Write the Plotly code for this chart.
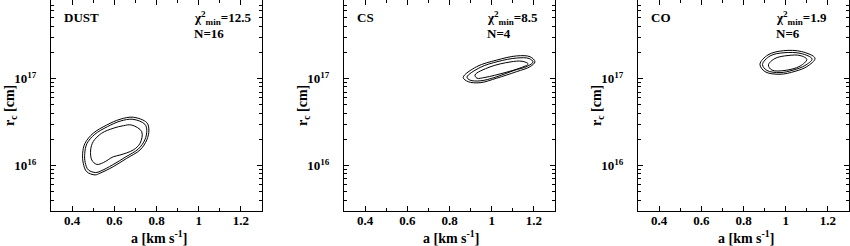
import plotly.graph_objects as go

# ---------------- data ----------------
panel_names = ["DUST", "CS", "CO"]
chi2_min = ["12.5", "8.5", "1.9"]
n_points = [16, 4, 6]

a_ticks = [0.4, 0.6, 0.8, 1.0, 1.2]
a_tick_labels = ["0.4", "0.6", "0.8", "1", "1.2"]
a_minor = [0.3, 0.5, 0.7, 0.9, 1.1, 1.3]
r_ticks = [1e16, 1e17]
r_tick_labels = ["10<sup>16</sup>", "10<sup>17</sup>"]
r_minor = [4e15, 5e15, 6e15, 7e15, 8e15, 9e15,
           2e16, 3e16, 4e16, 5e16, 6e16, 7e16, 8e16, 9e16,
           2e17, 3e17, 4e17, 5e17, 6e17, 7e17, 8e17]

# contour levels: a [km/s], r_c [1e16 cm]
dust_outer_a = [0.690, 0.754, 0.764, 0.754, 0.722, 0.659, 0.595, 0.532, 0.509, 0.469, 0.453, 0.450, 0.461, 0.500, 0.564, 0.627]
dust_outer_r = [3.59, 3.11, 2.56, 1.97, 1.51, 1.21, 0.97, 0.815, 0.78, 0.85, 1.06, 1.38, 1.80, 2.35, 2.92, 3.40]
dust_mid_a = [0.688, 0.745, 0.754, 0.745, 0.714, 0.655, 0.593, 0.534, 0.512, 0.477, 0.462, 0.460, 0.470, 0.507, 0.568, 0.628]
dust_mid_r = [3.40, 2.98, 2.52, 1.98, 1.55, 1.26, 1.02, 0.86, 0.83, 0.89, 1.08, 1.38, 1.78, 2.28, 2.80, 3.24]
dust_inner_a = [0.682, 0.730, 0.722, 0.690, 0.627, 0.595, 0.548, 0.517, 0.493, 0.488, 0.500, 0.540, 0.595, 0.643]
dust_inner_r = [2.92, 2.45, 1.80, 1.51, 1.32, 1.26, 1.08, 1.03, 1.16, 1.51, 1.88, 2.35, 2.68, 2.87]

cs_outer_a = [0.865, 0.929, 1.024, 1.118, 1.182, 1.205, 1.182, 1.118, 1.024, 0.945, 0.889]
cs_outer_r = [10.3, 13.7, 16.3, 18.2, 17.8, 15.6, 13.7, 12.0, 10.1, 8.96, 9.2]
cs_mid_a = [0.883, 0.945, 1.030, 1.118, 1.177, 1.196, 1.168, 1.106, 1.020, 0.945, 0.897]
cs_mid_r = [10.4, 13.4, 15.7, 17.2, 17.0, 15.5, 13.8, 12.4, 10.4, 9.4, 9.6]
cs_inner_a = [0.921, 0.992, 1.087, 1.144, 1.173, 1.134, 1.063, 0.968, 0.930]
cs_inner_r = [11.0, 13.6, 15.5, 15.8, 14.7, 13.2, 11.7, 10.3, 10.1]

co_outer_a = [0.878, 0.916, 0.989, 1.076, 1.139, 1.100, 1.044, 0.973, 0.902]
co_outer_r = [14.6, 18.7, 20.9, 20.4, 17.1, 13.7, 12.1, 11.2, 12.0]
co_mid_a = [0.890, 0.926, 0.992, 1.073, 1.125, 1.091, 1.035, 0.973, 0.911]
co_mid_r = [14.5, 18.2, 19.8, 19.4, 16.8, 14.1, 12.5, 11.7, 12.4]
co_inner_a = [0.918, 0.949, 1.011, 1.068, 1.100, 1.068, 0.997, 0.935]
co_inner_r = [14.3, 17.0, 18.4, 18.4, 16.6, 13.9, 12.4, 12.5]

contours = [
    [(dust_outer_a, dust_outer_r), (dust_mid_a, dust_mid_r), (dust_inner_a, dust_inner_r)],
    [(cs_outer_a, cs_outer_r), (cs_mid_a, cs_mid_r), (cs_inner_a, cs_inner_r)],
    [(co_outer_a, co_outer_r), (co_mid_a, co_mid_r), (co_inner_a, co_inner_r)],
]

# ---------------- layout geometry ----------------
W, H = 850, 246
x_left_px = [51, 344, 638]
panel_w = 211
y_top_px, y_bot_px = 0, 211

FONT = dict(family="Liberation Serif", size=13, color="black", weight="bold")
TITLE_FONT = dict(family="Liberation Serif", size=14, color="black", weight="bold")

fig = go.Figure()
layout = dict(
    width=W, height=H, margin=dict(l=0, r=0, t=0, b=0),
    paper_bgcolor="white", plot_bgcolor="white", showlegend=False,
    font=FONT, annotations=[],
)

for i in range(3):
    xa = "x" if i == 0 else f"x{i+1}"
    ya = "y" if i == 0 else f"y{i+1}"
    for (aa, rr) in contours[i]:
        fig.add_trace(go.Scatter(
            x=aa + [aa[0]], y=[v * 1e16 for v in rr] + [rr[0] * 1e16],
            mode="lines", line=dict(color="black", width=1, shape="spline", smoothing=1.0),
            xaxis=xa, yaxis=ya, hoverinfo="skip"))

    x0 = x_left_px[i] / W
    x1 = (x_left_px[i] + panel_w) / W
    axis_common = dict(showline=True, linecolor="black", linewidth=1.2, mirror="allticks",
                       ticks="inside", tickcolor="black", tickwidth=1, showgrid=False,
                       zeroline=False, tickfont=FONT)
    layout["xaxis" + ("" if i == 0 else str(i + 1))] = dict(
        axis_common, domain=[x0, x1], range=[0.3, 1.3], anchor=ya,
        tickmode="array", tickvals=a_ticks, ticktext=a_tick_labels, ticklen=5,
        ticklabelstandoff=-3,
        minor=dict(tickmode="array", tickvals=a_minor, ticks="inside", ticklen=3,
                   tickcolor="black", tickwidth=1, showgrid=False))
    layout["yaxis" + ("" if i == 0 else str(i + 1))] = dict(
        axis_common, domain=[1 - y_bot_px / H, 1 - y_top_px / H], type="log",
        range=[15.477, 17.903], anchor=xa,
        tickmode="array", tickvals=r_ticks, ticktext=r_tick_labels, ticklen=5,
        ticklabelstandoff=11,
        minor=dict(tickmode="array", tickvals=r_minor, ticks="inside", ticklen=3,
                   tickcolor="black", tickwidth=1, showgrid=False))

    # panel labels
    layout["annotations"].append(dict(
        text=panel_names[i], xref="paper", yref="paper",
        x=(x_left_px[i] + 11) / W, y=1 - 18 / H, xanchor="left", yanchor="middle",
        showarrow=False, font=FONT))
    chi_x = [192, 485, 774][i]
    layout["annotations"].append(dict(
        text=f"χ<sup>2</sup><sub>min</sub>={chi2_min[i]}", xref="paper", yref="paper",
        x=chi_x / W, y=1 - 18 / H, xanchor="left", yanchor="middle",
        showarrow=False, font=FONT))
    layout["annotations"].append(dict(
        text=f"N={n_points[i]}", xref="paper", yref="paper",
        x=chi_x / W, y=1 - 33 / H, xanchor="left", yanchor="middle",
        showarrow=False, font=FONT))
    # axis titles
    layout["annotations"].append(dict(
        text="a [km s<sup>-1</sup>]", xref="paper", yref="paper",
        x=(x_left_px[i] + panel_w / 2 + 2) / W, y=1 - 237 / H, xanchor="center", yanchor="middle",
        showarrow=False, font=TITLE_FONT))
    layout["annotations"].append(dict(
        text="r<sub>c</sub> [cm]", xref="paper", yref="paper",
        x=(x_left_px[i] - 41) / W, y=1 - 106 / H, xanchor="center", yanchor="middle",
        textangle=-90, showarrow=False, font=TITLE_FONT))

fig.update_layout(**layout)
fig.write_html("out.html", config={"displayModeBar": False},
               post_script="document.body.style.margin='0px';document.body.style.overflow='hidden';")
